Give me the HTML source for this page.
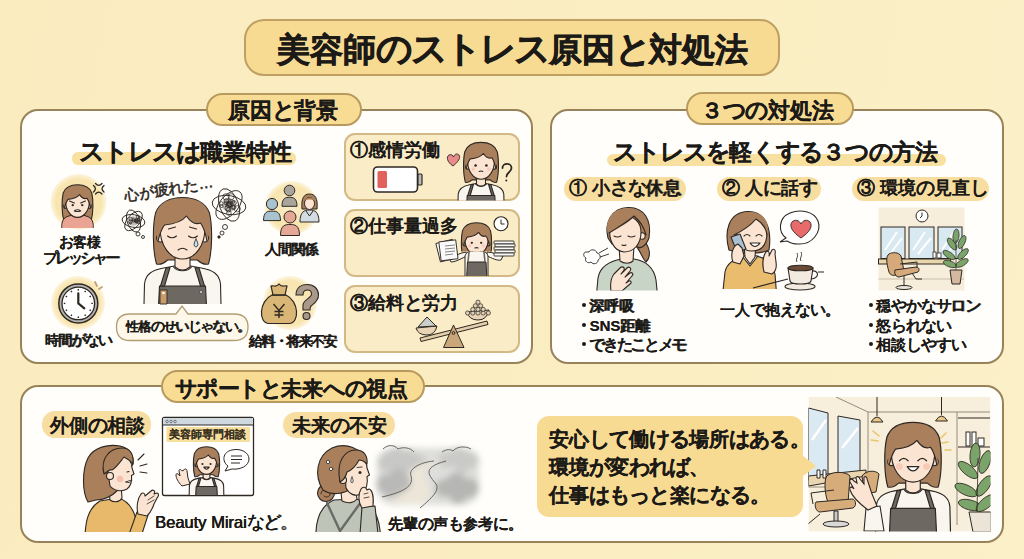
<!DOCTYPE html>
<html><head><meta charset="utf-8">
<style>
*{margin:0;padding:0;box-sizing:border-box}
html,body{width:1024px;height:559px;overflow:hidden}
body{position:relative;font-family:"Liberation Sans",sans-serif;color:#1c1a17;
background:linear-gradient(100deg,#faecbf 0%,#faedc1 50%,#fbf0c8 100%)}
.a{position:absolute}
.t{position:absolute;white-space:nowrap;font-weight:bold;line-height:1;-webkit-text-stroke:0.2px #1c1a17}
.panel{position:absolute;background:#fffefa;border:2.2px solid #978259;border-radius:18px}
.pill{position:absolute;background:#f8dc94;border:2px solid #b89a5e;border-radius:18px}
.card{position:absolute;background:#faecc6;border:2px solid #d2b985;border-radius:11px}
.tag{position:absolute;background:#f7dea0;border-radius:13px}
.band{position:absolute;background:#f8e0a0;border-radius:6px}
svg{position:absolute;overflow:visible}
.k{font-size:1.07em;letter-spacing:-0.07em;line-height:0;position:relative;top:0}
</style></head><body>
<div class="pill" style="left:244px;top:19px;width:536px;height:57px;border-radius:20px;background:#f8db93;border-color:#bf9f62"></div>
<div class="panel" style="left:20px;top:109px;width:513px;height:255px"></div>
<div class="panel" style="left:550px;top:109px;width:454px;height:255px"></div>
<div class="panel" style="left:20px;top:385px;width:984px;height:158px"></div>
<div class="pill" style="left:206px;top:93px;width:156px;height:33px"></div>
<div class="pill" style="left:686px;top:92px;width:168px;height:33px"></div>
<div class="pill" style="left:161px;top:370px;width:264px;height:33px"></div>
<div class="band" style="left:72px;top:152px;width:224px;height:13px"></div>
<div class="card" style="left:344px;top:133px;width:176px;height:68px"></div>
<div class="card" style="left:344px;top:209px;width:176px;height:68px"></div>
<div class="card" style="left:344px;top:285px;width:176px;height:68px"></div>
<div class="band" style="left:607px;top:154px;width:339px;height:12px"></div>
<div class="tag" style="left:564px;top:177px;width:122px;height:24px"></div>
<div class="tag" style="left:717px;top:177px;width:104px;height:24px"></div>
<div class="tag" style="left:852px;top:177px;width:137px;height:24px"></div>
<div class="tag" style="left:42px;top:411px;width:109px;height:27px"></div>
<div class="tag" style="left:283px;top:412px;width:112px;height:26px"></div>
<div class="a" style="left:537px;top:416px;width:266px;height:101px;background:#f8db92;border-radius:12px"></div>
<svg width="1024" height="559" style="left:0;top:0" viewBox="0 0 1024 559">
<defs><radialGradient id="yg"><stop offset="0" stop-color="#faedc8"/><stop offset="0.8" stop-color="#f8e4ad"/><stop offset="1" stop-color="#f8e4ad" stop-opacity="0.35"/></radialGradient><filter id="blur3"><feGaussianBlur stdDeviation="3"/></filter><filter id="blur4" x="-30%" y="-30%" width="160%" height="160%"><feGaussianBlur stdDeviation="4.5"/></filter><filter id="blur25" x="-30%" y="-30%" width="160%" height="160%"><feGaussianBlur stdDeviation="3"/></filter><filter id="blur1"><feGaussianBlur stdDeviation="1"/></filter></defs>
<circle cx="78.5" cy="202" r="28" fill="url(#yg)"/>
<circle cx="78" cy="303" r="27" fill="url(#yg)"/>
<circle cx="291.5" cy="208" r="27" fill="url(#yg)"/>
<circle cx="290" cy="303" r="27" fill="url(#yg)"/>
<clipPath id="cw"><rect x="-17.5" y="146" width="400" height="158"/></clipPath>
<g clip-path="url(#cw)">
<g transform="translate(182.5,196) scale(1.0)" stroke="#2e2823" stroke-width="1.10" stroke-linejoin="round" stroke-linecap="round">
<path fill="#a97f5c" d="M-26,68 C-30,54 -30,30 -27,17 C-23,6 -12,1.5 0,1.5 C12,1.5 23,6 27,17 C30,30 30,54 26,68 C22,69 18,67 15,64 L-15,64 C-18,67 -22,69 -26,68 Z"/>
<g transform="translate(0,0) scale(1,1)"><path fill="#f9f6f0" d="M-39,130 L-38,88 C-37,78 -30,74 -19,72 L-8,70 L8,70 L19,72 C30,74 37,78 38,88 L39,130 Z"/>
<path fill="none" d="M-9,71 C-5,76 5,76 9,71"/>
<path fill="#fbe4d2" d="M-7.5,54 L-7.5,71 C-3,75 3,75 7.5,71 L7.5,54 Z"/></g>
<path fill="#6e6862" d="M-23,90 L23,90 L25,130 L-25,130 Z"/>
<path fill="#6e6862" d="M-16.5,72 L-22,90 L-18,90 L-12.5,71.5 Z M16.5,72 L22,90 L18,90 L12.5,71.5 Z"/>
<circle fill="#fbe4d2" cx="-22" cy="42" r="4"/><circle fill="#fbe4d2" cx="22" cy="42" r="4"/>
<path fill="#fbe4d2" d="M-22.5,30 C-23,49 -13,63 0,63 C13,63 23,49 22.5,30 C22,18 12,12 0,12 C-12,12 -22,18 -22.5,30 Z"/>
<path fill="#a97f5c" stroke="none" d="M-25,46 C-28,20 -16,5 0,5 C16,5 28,20 25,46 C23,37 21,31 18,27 C13,29 8,26 4,20 C0,25 -8,28 -18,29 C-21,33 -23,39 -25,46 Z"/>
<path fill="none" d="M-24.5,45 C-23,39 -21,33 -18,29 C-8,28 0,25 4,20 C8,26 13,29 18,27 C21,31 23,37 24.5,45"/>
<path fill="none" d="M-15,40 Q-10.5,43.5 -6,40 M6,40 Q10.5,43.5 15,40 M-14,33 L-7,31 M7,31 L14,33 M-4.5,54 Q0,50.5 4.5,54"/>
<path fill="#bfe0f0" stroke-width="0.80" d="M13.5,43 Q9.5,50 13.5,51 Q17.5,50 13.5,43 Z"/>
</g>
</g>
<path fill="#c99a6a" stroke="#2e2823" stroke-width="0.9" d="M160,290 L167,290 L167,304 L160,304 Z"/><circle cx="163.5" cy="293" r="1.3" fill="#fff" stroke="none"/><circle cx="201" cy="292" r="1.5" fill="#ddd" stroke="#2e2823" stroke-width="0.6"/>
<g fill="none" stroke="#2e2823" stroke-width="0.9">
<ellipse cx="133.5" cy="221" rx="11.5" ry="6.3" transform="rotate(10.0 133.5 221)"/>
<ellipse cx="133.5" cy="221" rx="11.5" ry="6.3" transform="rotate(70.0 133.5 221)"/>
<ellipse cx="133.5" cy="221" rx="11.5" ry="6.3" transform="rotate(130.0 133.5 221)"/>
<circle cx="138.0" cy="216.8" r="1.6" stroke-width="0.7"/>
<circle cx="135.5" cy="221.0" r="1.0" stroke-width="0.7"/>
<circle cx="133.3" cy="220.9" r="1.2" stroke-width="0.7"/>
<circle cx="130.3" cy="223.1" r="1.1" stroke-width="0.7"/>
<circle cx="138.8" cy="222.4" r="1.4" stroke-width="0.7"/>
<circle cx="139.0" cy="219.5" r="1.4" stroke-width="0.7"/>
<circle cx="130.3" cy="221.8" r="1.8" stroke-width="0.7"/>
<circle cx="130.6" cy="219.0" r="1.8" stroke-width="0.7"/>
<circle cx="136.5" cy="219.8" r="1.5" stroke-width="0.7"/>
<circle cx="133.2" cy="219.5" r="1.3" stroke-width="0.7"/>
<circle cx="136.8" cy="220.5" r="1.7" stroke-width="0.7"/>
<circle cx="136.1" cy="221.2" r="1.7" stroke-width="0.7"/>
<circle cx="137.4" cy="221.5" r="1.8" stroke-width="0.7"/>
<circle cx="133.5" cy="221" r="4.8" fill="#2e2823" fill-opacity="0.3" stroke="none"/>
</g>
<g fill="none" stroke="#2e2823" stroke-width="0.9"><circle cx="138" cy="234" r="2"/><circle cx="143" cy="237" r="1.5"/></g>
<g fill="none" stroke="#2e2823" stroke-width="0.9">
<ellipse cx="229" cy="205" rx="17" ry="9.4" transform="rotate(10.0 229 205)"/>
<ellipse cx="229" cy="205" rx="17" ry="9.4" transform="rotate(70.0 229 205)"/>
<ellipse cx="229" cy="205" rx="17" ry="9.4" transform="rotate(130.0 229 205)"/>
<circle cx="234.0" cy="207.3" r="1.9" stroke-width="0.7"/>
<circle cx="229.2" cy="204.6" r="3.2" stroke-width="0.7"/>
<circle cx="226.0" cy="196.9" r="3.2" stroke-width="0.7"/>
<circle cx="233.4" cy="201.8" r="1.4" stroke-width="0.7"/>
<circle cx="229.0" cy="203.4" r="2.0" stroke-width="0.7"/>
<circle cx="226.4" cy="200.8" r="2.2" stroke-width="0.7"/>
<circle cx="234.3" cy="202.9" r="2.1" stroke-width="0.7"/>
<circle cx="228.9" cy="213.1" r="2.3" stroke-width="0.7"/>
<circle cx="229.7" cy="201.8" r="1.8" stroke-width="0.7"/>
<circle cx="221.5" cy="203.4" r="1.7" stroke-width="0.7"/>
<circle cx="231.2" cy="196.7" r="3.0" stroke-width="0.7"/>
<circle cx="229.0" cy="204.9" r="2.6" stroke-width="0.7"/>
<circle cx="229.3" cy="204.6" r="1.9" stroke-width="0.7"/>
<circle cx="228.4" cy="209.9" r="2.2" stroke-width="0.7"/>
<circle cx="221.8" cy="206.2" r="1.4" stroke-width="0.7"/>
<circle cx="230.1" cy="205.4" r="1.6" stroke-width="0.7"/>
<circle cx="237.3" cy="208.8" r="3.1" stroke-width="0.7"/>
<circle cx="233.0" cy="207.4" r="2.0" stroke-width="0.7"/>
<circle cx="227.7" cy="208.0" r="2.7" stroke-width="0.7"/>
<circle cx="226.1" cy="203.3" r="1.7" stroke-width="0.7"/>
<circle cx="229" cy="205" r="7.1" fill="#2e2823" fill-opacity="0.3" stroke="none"/>
</g>
<g fill="none" stroke="#2e2823" stroke-width="0.9"><circle cx="225" cy="227" r="2.5"/><circle cx="222" cy="233" r="2"/><circle cx="219" cy="237" r="1.2" fill="#2e2823"/></g>
<text x="125" y="201" transform="rotate(-9 125 201)" font-size="15" fill="#2e2823" stroke="#2e2823" stroke-width="0.55" style="font-family:'Liberation Sans',sans-serif">心が疲れた…</text>
<path fill="#fdf8ea" stroke="#b39d72" stroke-width="1.3" d="M130,314 L176,314 L182,306 L188,314 L234,314 Q248,314 248,327 Q248,340.5 234,340.5 L130,340.5 Q116.5,340.5 116.5,327 Q116.5,314 130,314 Z"/>
<clipPath id="cust"><rect x="-122.5" y="134" width="400" height="94"/></clipPath>
<g clip-path="url(#cust)">
<g transform="translate(77.5,184) scale(0.53)" stroke="#2e2823" stroke-width="2.08" stroke-linejoin="round" stroke-linecap="round">
<path fill="#a97f5c" d="M-26,68 C-30,54 -30,30 -27,17 C-23,6 -12,1.5 0,1.5 C12,1.5 23,6 27,17 C30,30 30,54 26,68 C22,69 18,67 15,64 L-15,64 C-18,67 -22,69 -26,68 Z"/>
<g transform="translate(0,-12) scale(0.78,1)"><path fill="#e9a493" d="M-39,130 L-38,88 C-37,78 -30,74 -19,72 L-8,70 L8,70 L19,72 C30,74 37,78 38,88 L39,130 Z"/>
<path fill="none" d="M-9,71 C-5,76 5,76 9,71"/>
<path fill="#fbe4d2" d="M-7.5,54 L-7.5,71 C-3,75 3,75 7.5,71 L7.5,54 Z"/></g>
<circle fill="#fbe4d2" cx="-22" cy="42" r="4"/><circle fill="#fbe4d2" cx="22" cy="42" r="4"/>
<path fill="#fbe4d2" d="M-22.5,30 C-23,49 -13,63 0,63 C13,63 23,49 22.5,30 C22,18 12,12 0,12 C-12,12 -22,18 -22.5,30 Z"/>
<path fill="#a97f5c" stroke="none" d="M-25,46 C-28,20 -16,5 0,5 C16,5 28,20 25,46 C23,37 21,31 18,27 C13,29 8,26 4,20 C0,25 -8,28 -18,29 C-21,33 -23,39 -25,46 Z"/>
<path fill="none" d="M-24.5,45 C-23,39 -21,33 -18,29 C-8,28 0,25 4,20 C8,26 13,29 18,27 C21,31 23,37 24.5,45"/>
<path fill="none" d="M-15,32 L-6,36 M6,36 L15,32"/>
<circle fill="#2e2823" stroke="none" cx="-9" cy="40" r="2.2"/><circle fill="#2e2823" stroke="none" cx="9" cy="40" r="2.2"/>
<path fill="#fff" d="M-6,51 Q0,46 6,51 Q0,53 -6,51 Z"/>
</g>
</g>
<g fill="none" stroke="#2e2823" stroke-width="1.3" stroke-linecap="round"><path d="M95.5,183.5 Q98.7,187.3 102,183.5 M95.5,194 Q98.7,190.3 102,194 M93.5,185.5 Q97.3,188.8 93.5,192 M104,185.5 Q100.1,188.8 104,192"/></g>
<g stroke="#2e2823"><circle cx="78.3" cy="303.4" r="19.5" fill="#b6b4b0" stroke-width="1.5"/><circle cx="78.3" cy="303.4" r="16.3" fill="#fff" stroke-width="1.3"/><g stroke-width="1.4"><line x1="91.30" y1="303.40" x2="92.80" y2="303.40"/><line x1="89.56" y1="309.90" x2="90.86" y2="310.65"/><line x1="84.80" y1="314.66" x2="85.55" y2="315.96"/><line x1="78.30" y1="316.40" x2="78.30" y2="317.90"/><line x1="71.80" y1="314.66" x2="71.05" y2="315.96"/><line x1="67.04" y1="309.90" x2="65.74" y2="310.65"/><line x1="65.30" y1="303.40" x2="63.80" y2="303.40"/><line x1="67.04" y1="296.90" x2="65.74" y2="296.15"/><line x1="71.80" y1="292.14" x2="71.05" y2="290.84"/><line x1="78.30" y1="290.40" x2="78.30" y2="288.90"/><line x1="84.80" y1="292.14" x2="85.55" y2="290.84"/><line x1="89.56" y1="296.90" x2="90.86" y2="296.15"/></g><path d="M78.3,303.4 L78.3,293.4 M78.3,303.4 L84.3,308.4" stroke-width="2.2" fill="none" stroke-linecap="round"/></g>
<g stroke="#c2a468" stroke-width="1.8" stroke-linecap="round"><path d="M95,282 L97,286 M99,289 L102,287"/></g>
<g stroke="#2e2823" stroke-width="1" fill="#a9a59d"><path d="M282.0,206.3 C282.0,197.8 285.75,197.3 289.5,197.3 C293.25,197.3 297.0,197.8 297.0,206.3 Z"/><circle cx="289.5" cy="190.5" r="5.3"/></g>
<g stroke="#2e2823" stroke-width="1" fill="#a8c3cf"><path d="M263.5,220.6 C263.5,211.6 267.75,211.1 272,211.1 C276.25,211.1 280.5,211.6 280.5,220.6 Z"/><circle cx="272" cy="204" r="5.6"/></g>
<g stroke="#2e2823" stroke-width="1"><path fill="#d3dbe3" d="M300,222 C300,212 304,210 309.5,210 C315,210 319,212 319,222 Z"/><path fill="none" d="M306,211 L309.5,216 L313,211"/><path fill="#a97f5c" d="M302,209 C301,198 304,194 309.5,194 C315,194 318,198 317,209 Z"/><ellipse cx="309.5" cy="203.5" rx="5" ry="6" fill="#fbe4d2"/><path fill="#a97f5c" stroke="none" d="M304,201 C305,197 314,196 315,201 C312,199 307,199 304,201Z"/></g>
<g stroke="#2e2823" stroke-width="1" fill="#e6a896"><path d="M280.5,235.5 C280.5,225 285.25,224.5 290,224.5 C294.75,224.5 299.5,225 299.5,235.5 Z"/><circle cx="290" cy="217" r="6"/></g>
<g stroke="#2e2823" stroke-width="1.2" fill="#d9b676"><path d="M272,295 C259,301 258,323 269,323.5 L289,323.5 C300,323 299,301 286,295 Z"/><path d="M271,286 C274,285 276,288 279,284 C282,288 284,285 287,286 L285,295 L273,295 Z"/><path fill="none" d="M272,295 L286,295"/></g>
<g fill="none" stroke="#2e2823" stroke-width="1.4"><path d="M273.5,304 L279,310.5 L284.5,304 M279,310.5 L279,318 M274.5,311.5 L283.5,311.5 M274.5,315 L283.5,315"/></g>
<path fill="#a8998a" stroke="#2e2823" stroke-width="1.1" d="M296,295 C296,287 302,284.5 307.5,284.5 C314,284.5 318.5,289 318.5,295 C318.5,301 314,303.5 311,306 C310,307 310,308 310,310 L303,310 L303,305 C303,300 311.5,298 311.5,294 C311.5,291 310,290 307.5,290 C304.5,290 303,292 303,295 Z"/><circle cx="306.5" cy="316" r="3.5" fill="#a8998a" stroke="#2e2823" stroke-width="1.1"/>
<g stroke="#2e2823"><rect x="373.5" y="167" width="44" height="25" rx="4" fill="#fff" stroke-width="1.6"/><rect x="418" y="174" width="4" height="11" rx="1" fill="#bbb" stroke-width="1.2"/><rect x="377.5" y="171" width="9.5" height="17" rx="1.5" fill="#e2615a" stroke="none"/></g>
<clipPath id="c1"><rect x="281" y="91.5" width="400" height="109.0"/></clipPath>
<g clip-path="url(#c1)">
<g transform="translate(481,141.5) scale(0.6)" stroke="#2e2823" stroke-width="1.83" stroke-linejoin="round" stroke-linecap="round">
<path fill="#a97f5c" d="M-26,68 C-30,54 -30,30 -27,17 C-23,6 -12,1.5 0,1.5 C12,1.5 23,6 27,17 C30,30 30,54 26,68 C22,69 18,67 15,64 L-15,64 C-18,67 -22,69 -26,68 Z"/>
<g transform="translate(0,0) scale(1,1)"><path fill="#f9f6f0" d="M-39,130 L-38,88 C-37,78 -30,74 -19,72 L-8,70 L8,70 L19,72 C30,74 37,78 38,88 L39,130 Z"/>
<path fill="none" d="M-9,71 C-5,76 5,76 9,71"/>
<path fill="#fbe4d2" d="M-7.5,54 L-7.5,71 C-3,75 3,75 7.5,71 L7.5,54 Z"/></g>
<path fill="#6e6862" d="M-23,90 L23,90 L25,130 L-25,130 Z"/>
<path fill="#6e6862" d="M-16.5,72 L-22,90 L-18,90 L-12.5,71.5 Z M16.5,72 L22,90 L18,90 L12.5,71.5 Z"/>
<circle fill="#fbe4d2" cx="-22" cy="42" r="4"/><circle fill="#fbe4d2" cx="22" cy="42" r="4"/>
<path fill="#fbe4d2" d="M-22.5,30 C-23,49 -13,63 0,63 C13,63 23,49 22.5,30 C22,18 12,12 0,12 C-12,12 -22,18 -22.5,30 Z"/>
<path fill="#a97f5c" stroke="none" d="M-25,46 C-28,20 -16,5 0,5 C16,5 28,20 25,46 C23,37 21,31 18,27 C13,29 8,26 4,20 C0,25 -8,28 -18,29 C-21,33 -23,39 -25,46 Z"/>
<path fill="none" d="M-24.5,45 C-23,39 -21,33 -18,29 C-8,28 0,25 4,20 C8,26 13,29 18,27 C21,31 23,37 24.5,45"/>
<circle fill="#2e2823" stroke="none" cx="-9" cy="40" r="2.2"/><circle fill="#2e2823" stroke="none" cx="9" cy="40" r="2.2"/>
<path fill="none" d="M-3,50 Q0,48.5 3,50"/>
<circle fill="#f4b8a8" stroke="none" cx="-13" cy="46" r="3" opacity="0.6"/><circle fill="#f4b8a8" stroke="none" cx="13" cy="46" r="3" opacity="0.6"/>
</g>
</g>
<path fill="#e88a8a" stroke="#2e2823" stroke-width="0.9" d="M453,166 C447,162 446,157 449,155 C451,154 453,155 453.5,157 C454.5,154 457,153 459,155 C461,158 458,162 453,166 Z"/>
<path fill="none" stroke="#2e2823" stroke-width="1.8" stroke-linecap="round" d="M502.5,168 C502.5,162.5 511.5,162.5 511.5,168 C511.5,172 506.5,172.5 506.5,176.5"/><circle cx="506.3" cy="180.5" r="1" fill="#2e2823"/>
<clipPath id="c2b"><rect x="430" y="215" width="95" height="61"/></clipPath><g clip-path="url(#c2b)">
<g stroke="#2e2823" stroke-width="1" stroke-linejoin="round"><path fill="#f9f6f0" d="M467,256 C462,258 456,262 451,262 L449,258 C454,257 459,253 466,252 Z"/><path fill="#f9f6f0" d="M487,256 C492,258 497,261 501,260 L503,256 C499,256 494,252 487,252 Z"/><path fill="#f9f6f0" d="M465,280 L465,256 C466,252 470,251 476.5,251 C483,251 487,252 488,256 L488,280 Z"/><path fill="#6e6862" d="M467.5,262 L486,262 L487,280 L466.5,280 Z"/><path fill="none" stroke="#6e6862" stroke-width="1.6" d="M469,252 L468,262 M484,252 L485,262"/></g>
</g>
<clipPath id="c2"><rect x="276.5" y="172" width="400" height="79.5"/></clipPath>
<g clip-path="url(#c2)">
<g transform="translate(476.5,222) scale(0.52)" stroke="#2e2823" stroke-width="2.12" stroke-linejoin="round" stroke-linecap="round">
<path fill="#a97f5c" d="M-26,68 C-30,54 -30,30 -27,17 C-23,6 -12,1.5 0,1.5 C12,1.5 23,6 27,17 C30,30 30,54 26,68 C22,69 18,67 15,64 L-15,64 C-18,67 -22,69 -26,68 Z"/>
<g transform="translate(0,0) scale(1,1)"><path fill="#f9f6f0" d="M-39,130 L-38,88 C-37,78 -30,74 -19,72 L-8,70 L8,70 L19,72 C30,74 37,78 38,88 L39,130 Z"/>
<path fill="none" d="M-9,71 C-5,76 5,76 9,71"/>
<path fill="#fbe4d2" d="M-7.5,54 L-7.5,71 C-3,75 3,75 7.5,71 L7.5,54 Z"/></g>
<path fill="#6e6862" d="M-23,90 L23,90 L25,130 L-25,130 Z"/>
<path fill="#6e6862" d="M-16.5,72 L-22,90 L-18,90 L-12.5,71.5 Z M16.5,72 L22,90 L18,90 L12.5,71.5 Z"/>
<circle fill="#fbe4d2" cx="-22" cy="42" r="4"/><circle fill="#fbe4d2" cx="22" cy="42" r="4"/>
<path fill="#fbe4d2" d="M-22.5,30 C-23,49 -13,63 0,63 C13,63 23,49 22.5,30 C22,18 12,12 0,12 C-12,12 -22,18 -22.5,30 Z"/>
<path fill="#a97f5c" stroke="none" d="M-25,46 C-28,20 -16,5 0,5 C16,5 28,20 25,46 C23,37 21,31 18,27 C13,29 8,26 4,20 C0,25 -8,28 -18,29 C-21,33 -23,39 -25,46 Z"/>
<path fill="none" d="M-24.5,45 C-23,39 -21,33 -18,29 C-8,28 0,25 4,20 C8,26 13,29 18,27 C21,31 23,37 24.5,45"/>
<circle fill="#2e2823" stroke="none" cx="-9" cy="40" r="2.2"/><circle fill="#2e2823" stroke="none" cx="9" cy="40" r="2.2"/>
<path fill="none" d="M-3,50 Q0,48.5 3,50"/>
<circle fill="#f4b8a8" stroke="none" cx="-13" cy="46" r="3" opacity="0.6"/><circle fill="#f4b8a8" stroke="none" cx="13" cy="46" r="3" opacity="0.6"/>
</g>
</g>
<g stroke="#2e2823" stroke-width="0.9" fill="#fafafa"><path transform="rotate(-14 447 251)" d="M438,241 L455,241 L455,260 L438,260 Z"/><path transform="rotate(-7 447 251)" d="M440,241 L457,241 L457,260 L440,260 Z"/><path fill="none" stroke="#777" d="M445,246 L455,245 M445,249 L455,248 M445,252 L455,251 M445,255 L453,254"/></g>
<g stroke="#2e2823" stroke-width="0.9" fill="#fafafa"><rect x="494" y="241" width="20" height="3" rx="0.5"/><rect x="495" y="244" width="20" height="3" rx="0.5"/><rect x="494" y="247" width="20" height="3" rx="0.5"/><rect x="495" y="250" width="20" height="3" rx="0.5"/><rect x="494" y="253" width="20" height="3" rx="0.5"/></g>
<g stroke="#2e2823"><circle cx="501" cy="223.7" r="7" fill="#fff" stroke-width="1.1"/><path d="M501,219.5 L501,224 L504.5,224" fill="none" stroke-width="1"/></g>
<g stroke="#2e2823" stroke-width="1"><path fill="#e3cdaa" d="M420,338 L487,321 L488,324.5 L421,341.5 Z"/><path fill="#c9a77a" d="M453.5,325 L464,347.5 L443.5,347.5 Z"/><circle cx="453.5" cy="333" r="1.4" fill="none"/><path fill="#e8d3b5" d="M416,328 L437,326 Q435,335 427,335 Q418,335 416,328 Z"/><path fill="#c9d0cc" d="M418,327 L427,317 L436,326 Z"/><path fill="#e8d3b5" d="M467,312 L489,310 Q487,320 478,320 Q469,320 467,312 Z"/></g>
<g fill="#ddd0b4" stroke="#2e2823" stroke-width="0.7"><circle cx="467.6" cy="313.0" r="2.1"/><circle cx="472.8" cy="313.0" r="2.1"/><circle cx="478.0" cy="313.0" r="2.1"/><circle cx="483.2" cy="313.0" r="2.1"/><circle cx="488.4" cy="313.0" r="2.1"/><circle cx="472.8" cy="309.4" r="2.1"/><circle cx="478.0" cy="309.4" r="2.1"/><circle cx="483.2" cy="309.4" r="2.1"/><circle cx="475.4" cy="305.8" r="2.1"/><circle cx="480.6" cy="305.8" r="2.1"/><circle cx="478.0" cy="302.2" r="2.1"/></g>
<clipPath id="bw"><rect x="560" y="200" width="120" height="90.5"/></clipPath><g clip-path="url(#bw)">
<g stroke="#2e2823" stroke-width="1.1" stroke-linejoin="round" stroke-linecap="round">
<path fill="#c8d5c6" d="M596,300 L598,278 C600,266 610,261 622,259 L634,259 C646,261 654,268 656,280 L658,300 Z"/>
<path fill="#fbe4d2" d="M619,246 L620,261 C624,264 630,264 633,261 L634,246 Z"/>
<path fill="#a97f5c" d="M640,238 C650,244 652,256 646,262 C642,258 640,250 636,246 Z"/>
<path fill="#a97f5c" d="M608,238 C604,222 612,208 628,207.5 C644,207 652,220 649,238 C646,246 640,250 636,246 L612,244 Z"/>
<circle fill="#fbe4d2" cx="642" cy="236" r="3.2"/>
<path fill="#fbe4d2" d="M610,226 C608,240 614,251 624,252 C634,252 641,244 641,232 C641,222 634,216 625,216 C616,216 611,220 610,226 Z"/>
<path fill="#a97f5c" stroke="none" d="M608,234 C604,218 614,208 628,208 C641,208 649,218 647,236 C644,226 640,220 634,216 C630,222 622,226 608,234 Z"/>
<path fill="none" d="M609,233 C620,226 629,221 634,216 C640,221 644,227 646,235"/>
<path fill="none" d="M614,236 Q617,238 621,236 M628,236 Q631,238 635,236 M622,245 Q624,246 626,245"/>
<path fill="#fbe4d2" d="M611,291 C610,284 611,278 614,274 L620,268 C622,266 625,267 624,270 L621,274 L627,268 C629,266 632,268 630,271 L625,277 L630,273 C632,272 634,274 632,276 L626,283 L629,281 C631,280 632,283 630,284 L622,291 Z"/>
</g></g>
<g fill="#fff" stroke="#2e2823" stroke-width="0.9"><path d="M586,252 C583,252 583,257 586,258 C584,261 588,264 591,262 C593,265 598,264 598,260 C601,259 601,254 597,253 C596,249 590,249 589,252 Z"/><path fill="none" d="M599,253 L608,248 M600,257 L609,254"/></g>
<clipPath id="pw"><rect x="700" y="200" width="140" height="89"/></clipPath><g clip-path="url(#pw)">
<g stroke="#2e2823" stroke-width="1.1" stroke-linejoin="round" stroke-linecap="round">
<path fill="#a97f5c" d="M729,250 C724,232 728,212 748,211.5 C766,211 772,230 769,250 C762,254 740,254 729,250 Z"/>
<path fill="#e9bc6e" d="M722,300 L725,272 C727,262 736,258 746,256 L756,256 C766,258 773,264 775,274 L777,300 Z"/>
<path fill="#fff" d="M742,256 L750,266 L758,256 Z"/>
<path fill="#fbe4d2" d="M744,244 L745,257 L750,264 L755,257 L756,244 Z"/>
<path fill="#fbe4d2" d="M737,230 C736,244 742,251 752,251 C762,251 767,244 767,232 C767,223 760,219 752,219 C743,219 738,223 737,230 Z"/>
<path fill="#a97f5c" stroke="none" d="M733,236 C730,220 738,212 750,212 C762,212 770,220 768,236 C765,226 760,221 756,219 C752,225 744,230 733,236 Z"/>
<path fill="none" d="M734,235 C744,230 751,225 756,219 C761,222 766,228 767,235"/>
<path fill="none" d="M744,236 Q747,233 750,236 M756,236 Q759,233 762,236"/><path fill="#fff" d="M750,243 Q755,250 760,243 Z"/>
<path fill="#a9c0d3" d="M731,237 L740,234 L746,249 L737,252 Z"/>
<path fill="#fbe4d2" d="M733,262 C730,254 733,246 738,244 L742,248 L744,256 L740,264 Z"/>
<path fill="#fbe4d2" d="M764,272 C762,264 763,256 766,252 C768,250 770,252 769,256 L772,250 C774,248 776,250 775,254 L776,262 C777,268 775,272 772,274 Z"/>
</g></g>
<g stroke="#2e2823" stroke-width="1.1"><path fill="#fff" d="M786,238 C778,232 778,218 790,213 C800,209 814,211 818,221 C822,232 812,245 798,244 C794,244 790,243 787,241 L780,242 Z"/><path fill="#e96a6b" stroke-width="0.9" d="M801,238 C792,232 789,226 792,222 C795,219 799,220 801,224 C803,220 807,219 810,222 C813,226 810,232 801,238 Z"/></g>
<g stroke="#2e2823" stroke-width="0.9" fill="none"><path d="M797,262 C795,259 799,257 797,253 M801,261 C799,258 803,256 801,252"/></g>
<g stroke="#2e2823" stroke-width="1.1"><path fill="none" d="M753,288 L788,279 M818,272 L824,272"/><ellipse cx="800" cy="286.5" rx="15" ry="3.5" fill="#f3ebe0"/><path fill="#f3ebe0" d="M788,268 L790,281 C791,285 810,285 811,281 L813,268 Z"/><path fill="none" d="M812,271 C819,270 820,278 811,279"/><ellipse cx="800.5" cy="268" rx="12.5" ry="2.8" fill="#6b4a36"/></g>
<rect x="878.5" y="207.5" width="86" height="83" fill="#f6eddb"/>
<g stroke="#2e2823" stroke-width="1">
<rect x="881" y="227" width="24" height="31.5" fill="#d9e9f1"/>
<path stroke="#fff" stroke-width="2" d="M885,250 L897,232 M890,254 L902,238"/>
<rect x="909" y="227" width="25" height="31.5" fill="#d9e9f1"/>
<path stroke="#fff" stroke-width="2" d="M913,250 L925,232 M918,254 L931,238"/>
<rect x="938" y="227" width="24" height="31.5" fill="#d9e9f1"/>
<path stroke="#fff" stroke-width="2" d="M942,250 L954,232 M947,254 L959,238"/>
<rect x="878.5" y="259" width="72" height="5" fill="#ead6ad"/>
<circle cx="922" cy="216" r="6" fill="#fff"/><path fill="none" d="M922,212.5 L922,216 L920,218"/>
<path fill="none" stroke="#cbbfa8" d="M878.5,279 L964,279"/>
<path fill="#d5a97a" d="M889,254 C886,256 886,262 889,272 C890,275 893,276 896,275 L904,271 L901,256 C899,252 892,252 889,254 Z"/>
<path fill="#d5a97a" d="M895,270 L916,267 C919,267 920,270 918,272 L899,277 C896,277 894,274 895,270 Z"/>
<path fill="none" d="M900,264 L917,262 L917,268"/>
<path fill="none" d="M904,276 L904,286"/><ellipse cx="904" cy="287.5" rx="8" ry="2" fill="#e8e4dc"/>
<path fill="none" d="M912,273 L916,279 L922,279"/>
<path fill="#d4b9a0" d="M950,270 L962,270 L960,284 L952,284 Z"/>
</g>
<g fill="#7aa46a" stroke="#2e2823" stroke-width="0.7"><ellipse cx="952" cy="244" rx="3" ry="7" transform="rotate(-35 952 244)"/><ellipse cx="962" cy="242" rx="3" ry="7" transform="rotate(25 962 242)"/><ellipse cx="949" cy="255" rx="3" ry="7" transform="rotate(-55 949 255)"/><ellipse cx="963" cy="254" rx="3" ry="7" transform="rotate(45 963 254)"/><ellipse cx="956" cy="236" rx="3" ry="7" transform="rotate(5 956 236)"/><ellipse cx="950" cy="264" rx="3" ry="7" transform="rotate(-70 950 264)"/><ellipse cx="962" cy="263" rx="3" ry="7" transform="rotate(60 962 263)"/><path fill="none" d="M956,270 L956,240"/></g>
<g stroke="#2e2823" stroke-width="0.8" fill="#fff"><rect x="933" y="252" width="3" height="6"/><rect x="937" y="253" width="4" height="5"/></g>
<clipPath id="pf"><rect x="60" y="430" width="120" height="102"/></clipPath><g clip-path="url(#pf)">
<g stroke="#2e2823" stroke-width="1.1" stroke-linejoin="round" stroke-linecap="round">
<path fill="#e9b96b" d="M85,540 C85,522 88,508 100,501 L118,498 C130,501 136,512 138,530 L140,540 Z"/>
<path fill="#e9b96b" d="M127,540 L137,512 L148,515 L140,540 Z"/>
<path fill="#fbe4d2" d="M138,514 C136,506 138,498 141,494 C143,492 145,493 145,496 L151,491 C153,489 156,491 154,494 L157,493 C159,493 159,496 157,498 L154,504 C152,510 149,514 147,516 Z"/>
<path fill="none" stroke-width="0.8" d="M148,500 L154,496 M147,504 L154,500"/>
<path fill="#fbe4d2" d="M108,482 L110,500 C114,503 120,502 122,498 L121,484 Z"/>
<path fill="#a97f5c" d="M88,502 C82,492 82,470 88,458 C94,447 108,444 120,446 C130,448 134,456 133,464 L118,490 C112,496 104,500 96,500 Z"/>
<path fill="#fbe4d2" d="M108,472 C108,462 114,456 122,456 C128,456 132,462 132,468 L134,474 L131.5,475.5 C132,480 131,486 127,489 C122,492 114,491 110,486 Z"/>
<circle fill="#fbe4d2" cx="110" cy="476" r="3.5"/>
<path fill="#a97f5c" d="M104,474 C100,458 110,448 122,448 C130,448 134,454 133,464 C130,460 126,458 124,457 C120,462 116,468 112,470 C110,468 108,472 104,474 Z"/>
<circle fill="#f3b2a0" stroke="none" cx="120" cy="479" r="3.2" opacity="0.75"/>
<path fill="none" d="M127,472 L129,471.5"/><path fill="#fff" stroke-width="0.9" d="M126,482 Q130,484 132,480 Q128,481 126,482 Z"/>
</g></g>
<g stroke="#2e2823" stroke-width="1.1" stroke-linecap="round"><path d="M138,460 L144,454 M140,466 L147,464 M140,472 L147,473"/></g>
<rect x="162.5" y="417.5" width="91" height="78" rx="2" fill="#fff" stroke="#2e2823" stroke-width="1.3"/>
<rect x="163" y="418" width="90" height="7" fill="#cfd8df"/><path stroke="#2e2823" stroke-width="1" d="M162.5,425 L253.5,425"/>
<g fill="none" stroke="#555" stroke-width="0.7"><circle cx="167" cy="421.5" r="1.3"/><circle cx="171" cy="421.5" r="1.3"/><circle cx="175" cy="421.5" r="1.3"/></g>
<rect x="166.5" y="427" width="83.5" height="15" fill="#f7df9e"/>
<clipPath id="bwin"><rect x="163" y="426" width="90" height="69"/></clipPath><g clip-path="url(#bwin)">
<g transform="translate(206.5,446) scale(0.45)" stroke="#2e2823" stroke-width="2.44" stroke-linejoin="round" stroke-linecap="round">
<path fill="#a97f5c" d="M-26,68 C-30,54 -30,30 -27,17 C-23,6 -12,1.5 0,1.5 C12,1.5 23,6 27,17 C30,30 30,54 26,68 C22,69 18,67 15,64 L-15,64 C-18,67 -22,69 -26,68 Z"/>
<g transform="translate(0,0) scale(1,1)"><path fill="#f9f6f0" d="M-39,130 L-38,88 C-37,78 -30,74 -19,72 L-8,70 L8,70 L19,72 C30,74 37,78 38,88 L39,130 Z"/>
<path fill="none" d="M-9,71 C-5,76 5,76 9,71"/>
<path fill="#fbe4d2" d="M-7.5,54 L-7.5,71 C-3,75 3,75 7.5,71 L7.5,54 Z"/></g>
<path fill="#6e6862" d="M-23,90 L23,90 L25,130 L-25,130 Z"/>
<path fill="#6e6862" d="M-16.5,72 L-22,90 L-18,90 L-12.5,71.5 Z M16.5,72 L22,90 L18,90 L12.5,71.5 Z"/>
<circle fill="#fbe4d2" cx="-22" cy="42" r="4"/><circle fill="#fbe4d2" cx="22" cy="42" r="4"/>
<path fill="#fbe4d2" d="M-22.5,30 C-23,49 -13,63 0,63 C13,63 23,49 22.5,30 C22,18 12,12 0,12 C-12,12 -22,18 -22.5,30 Z"/>
<path fill="#a97f5c" stroke="none" d="M-25,46 C-28,20 -16,5 0,5 C16,5 28,20 25,46 C23,37 21,31 18,27 C13,29 8,26 4,20 C0,25 -8,28 -18,29 C-21,33 -23,39 -25,46 Z"/>
<path fill="none" d="M-24.5,45 C-23,39 -21,33 -18,29 C-8,28 0,25 4,20 C8,26 13,29 18,27 C21,31 23,37 24.5,45"/>
<circle fill="#2e2823" stroke="none" cx="-9" cy="40" r="2.4"/><circle fill="#2e2823" stroke="none" cx="9" cy="40" r="2.4"/>
<path fill="#fff" d="M-6,47 Q0,56 6,47 Z"/>
</g>
</g>
<g stroke="#2e2823" stroke-width="1"><path fill="#fbe4d2" d="M182,486 C178,482 176,478 176,475 C176,473 178,473 180,476 L179,471 C179,469 181,469 182,471 L184,470 C185,468 187,469 187,471 L188,478 L190,484 Z"/><path fill="#fff" d="M228,466 C222,462 222,452 232,450 C240,448 249,452 249,459 C249,466 240,470 232,469 L225,471 Z"/><path fill="none" d="M231,456 L242,456 M231,459.5 L242,459.5 M231,463 L240,463"/></g>
<clipPath id="wr"><rect x="300" y="440" width="100" height="92"/></clipPath><g clip-path="url(#wr)">
<g stroke="#2e2823" stroke-width="1.1" stroke-linejoin="round" stroke-linecap="round">
<path fill="#bfc4b8" d="M316,540 C315,520 320,506 334,500 L356,499 C370,502 378,512 380,530 L381,540 Z"/>
<path fill="none" stroke="#6a6a66" stroke-width="2.4" d="M327,503 L340,531 L361,502"/>
<path fill="#fbe4d2" d="M340,484 L342,501 C348,504 354,503 357,499 L355,486 Z"/>
<circle fill="#a97f5c" cx="326" cy="493" r="8.5"/><path fill="none" stroke-width="0.9" d="M321,494 C321,488 330,488 330,494 C330,497 326,498 324,496"/>
<path fill="#a97f5c" d="M323,490 C314,476 316,456 332,448 C346,442 362,448 366,462 L352,488 C344,494 332,496 323,490 Z"/>
<path fill="#fbe4d2" d="M345,472 C345,462 352,457 360,458 C365,459 367,464 367,468 L369.5,475 L367,476.5 C368,482 367,490 361,494 C355,497 349,494 346,488 Z"/>
<circle fill="#fbe4d2" cx="343" cy="480" r="3.5"/>
<path fill="#a97f5c" d="M340,482 C336,462 344,450 356,450 C364,450 368,456 367,464 C364,461 361,460 359,460 C356,466 352,470 347,472 C346,476 344,480 340,482 Z"/>
<circle fill="#fff" stroke-width="0.8" cx="328" cy="462" r="1.7"/><circle fill="#fff" stroke-width="0.8" cx="331" cy="469" r="1.7"/>
<circle fill="#2e2823" stroke="none" cx="360" cy="472.5" r="1.5"/><path fill="none" stroke-width="0.9" d="M357,467.5 L362,467"/>
<path fill="#cde6f2" stroke-width="0.7" d="M352,477 Q349.5,482 352,483 Q354.5,482 352,477Z"/>
<path fill="#bfc4b8" d="M360,534 L362,507 L375,506 L378,534 Z"/>
<path fill="#fbe4d2" d="M362,508 C358,502 358,494 361,489 C363,486 366,487 367,490 L369,489 C372,490 374,496 373,506 Z"/>
<path fill="none" stroke-width="0.8" d="M364,494 L368,493 M364,498 L369,497"/>
</g></g>
<g filter="url(#blur25)">
<rect x="377" y="448" width="102" height="57" rx="16" fill="#dededc"/>
<circle cx="386" cy="462" r="9" fill="#c8c8c6"/>
<circle cx="397" cy="458" r="11" fill="#c8c8c6"/>
<circle cx="410" cy="460" r="10" fill="#c8c8c6"/>
<circle cx="420" cy="464" r="8" fill="#c8c8c6"/>
<circle cx="400" cy="466" r="10" fill="#c8c8c6"/>
<circle cx="386" cy="484" r="10" fill="#b9b9b7"/>
<circle cx="398" cy="480" r="11" fill="#b9b9b7"/>
<circle cx="406" cy="488" r="9" fill="#b9b9b7"/>
<circle cx="392" cy="492" r="8" fill="#b9b9b7"/>
<circle cx="446" cy="460" r="8" fill="#cacac8"/>
<circle cx="458" cy="457" r="10" fill="#cacac8"/>
<circle cx="470" cy="460" r="9" fill="#cacac8"/>
<circle cx="462" cy="466" r="8" fill="#cacac8"/>
<circle cx="444" cy="488" r="9" fill="#b6b6b4"/>
<circle cx="456" cy="484" r="11" fill="#b6b6b4"/>
<circle cx="469" cy="488" r="10" fill="#b6b6b4"/>
<circle cx="458" cy="495" r="9" fill="#b6b6b4"/>
<path fill="#ece6d8" d="M385,500 C404,494 414,488 411,476 C408,468 422,462 437,461 L445,461 C430,464 420,470 425,478 C432,488 432,496 422,506 Z"/>
</g>
<g fill="none" stroke="#5a5855" stroke-width="0.9"><path d="M382,497 C404,492 414,486 411,476 C408,468 422,462 434,461"/><path d="M420,508 C432,498 440,490 436,484 C430,476 420,468 446,461"/><path d="M383,449 C388,444 395,445 398,449 C402,447 410,447 414,452"/><path d="M442,452 C447,449 450,449 453,451 C457,446 466,446 471,449"/></g>
<clipPath id="sb"><rect x="808.5" y="397" width="182" height="134.5"/></clipPath><g clip-path="url(#sb)">
<rect x="808.5" y="397" width="182" height="134.5" fill="#f7eedb"/>
<g stroke="#8a8070" stroke-width="0.9" fill="none"><path d="M836,397 L868,412 L868,486 M868,412 L990,412 M957,412 L957,525 M808,487 L868,487"/></g>
<g stroke="#2e2823" stroke-width="1">
<path fill="#dbeaf2" d="M808.5,408 L828,413 L828,477 L808.5,480 Z"/><path fill="#dbeaf2" d="M838,416 L860,420 L860,473 L838,475 Z"/>
<path stroke="#fff" stroke-width="2.5" d="M812,440 L826,420 M842,448 L858,428"/>
<path fill="#ead7b2" d="M808.5,476 L866,470 L866,476 L808.5,486 Z"/>
<path fill="#d6ac7b" d="M862,476 C866,470 876,470 879,474 L876,492 L864,494 Z"/>
<path fill="#d6ac7b" d="M826,477 C830,471 846,471 850,476 L848,503 L829,505 C825,496 824,485 826,477 Z"/>
<path fill="#d6ac7b" d="M816,502 L852,499 C856,499 857,506 853,508 L820,512 C816,512 814,505 816,502 Z"/>
<path fill="none" d="M811,493 L834,490 M811,493 L813,504"/>
<path fill="#c9c9c7" d="M834,511 L838,511 L838,522 L834,522 Z"/><ellipse cx="836" cy="524" rx="13" ry="3" fill="#d9d9d7"/>
<path fill="none" d="M808,524 L820,514"/>
<path fill="none" d="M877,397 L877,416 M941.5,397 L941.5,415"/><path fill="#e9c887" d="M871,422 Q877,412 883,422 Z M935.5,421 Q941.5,411 947.5,421 Z"/>
<path fill="none" d="M958,418 L990,418 M958,447 L990,447"/>
<rect x="966" y="432" width="4" height="14" fill="#fff"/><rect x="972" y="432" width="4" height="14" fill="#fff"/><rect x="978" y="438" width="6" height="8" fill="#fff"/>
<path fill="#fff" d="M817,478 L817,470 L820,470 L820,478 Z M823,478 L823,470 L826,470 L826,478 Z"/>
<path fill="#ece4d6" d="M969,512 L991,512 L991,532 L973,532 Z"/>
</g>
<g fill="#7aa46a" stroke="#2e2823" stroke-width="0.8"><ellipse cx="968" cy="470" rx="5" ry="12" transform="rotate(-50 968 470)"/><ellipse cx="985" cy="462" rx="5" ry="12" transform="rotate(20 985 462)"/><ellipse cx="966" cy="490" rx="5" ry="12" transform="rotate(-65 966 490)"/><ellipse cx="984" cy="486" rx="5" ry="12" transform="rotate(35 984 486)"/><ellipse cx="975" cy="455" rx="5" ry="12" transform="rotate(5 975 455)"/><ellipse cx="970" cy="505" rx="5" ry="12" transform="rotate(-75 970 505)"/><ellipse cx="986" cy="503" rx="5" ry="12" transform="rotate(50 986 503)"/><path fill="none" d="M977,512 L978,458"/></g>
<g stroke="#e9c66a" stroke-width="1.6" stroke-linecap="round"><path d="M873,431 L879,436 M871,440 L878,441 M946,433 L941,438 M948,442 L942,443 M951,450 L945,450"/></g>
<g transform="translate(913,421) scale(0.97)" stroke="#2e2823" stroke-width="1.24" stroke-linejoin="round" stroke-linecap="round">
<path fill="#a97f5c" d="M-26,68 C-30,54 -30,30 -27,17 C-23,6 -12,1.5 0,1.5 C12,1.5 23,6 27,17 C30,30 30,54 26,68 C22,69 18,67 15,64 L-15,64 C-18,67 -22,69 -26,68 Z"/>
<g transform="translate(0,0) scale(1,1)"><path fill="#f9f6f0" d="M-39,130 L-38,88 C-37,78 -30,74 -19,72 L-8,70 L8,70 L19,72 C30,74 37,78 38,88 L39,130 Z"/>
<path fill="none" d="M-9,71 C-5,76 5,76 9,71"/>
<path fill="#fbe4d2" d="M-7.5,54 L-7.5,71 C-3,75 3,75 7.5,71 L7.5,54 Z"/></g>
<path fill="#6e6862" d="M-23,90 L23,90 L25,130 L-25,130 Z"/>
<path fill="#6e6862" d="M-16.5,72 L-22,90 L-18,90 L-12.5,71.5 Z M16.5,72 L22,90 L18,90 L12.5,71.5 Z"/>
<circle fill="#fbe4d2" cx="-22" cy="42" r="4"/><circle fill="#fbe4d2" cx="22" cy="42" r="4"/>
<path fill="#fbe4d2" d="M-22.5,30 C-23,49 -13,63 0,63 C13,63 23,49 22.5,30 C22,18 12,12 0,12 C-12,12 -22,18 -22.5,30 Z"/>
<path fill="#a97f5c" stroke="none" d="M-25,46 C-28,20 -16,5 0,5 C16,5 28,20 25,46 C23,37 21,31 18,27 C13,29 8,26 4,20 C0,25 -8,28 -18,29 C-21,33 -23,39 -25,46 Z"/>
<path fill="none" d="M-24.5,45 C-23,39 -21,33 -18,29 C-8,28 0,25 4,20 C8,26 13,29 18,27 C21,31 23,37 24.5,45"/>
<path fill="none" d="M-14,41 Q-9.5,36 -5,41 M5,41 Q9.5,36 14,41"/>
<path fill="#fff" d="M-6,47 Q0,56 6,47 Z"/>
<circle fill="#f4b8a8" stroke="none" cx="-14" cy="47" r="3.5" opacity="0.6"/><circle fill="#f4b8a8" stroke="none" cx="14" cy="47" r="3.5" opacity="0.6"/>
</g>
<g stroke="#2e2823" stroke-width="1.1"><path fill="#f9f6f0" d="M864,531 L866,508 L880,506 L884,531 Z"/><path fill="#fbe4d2" d="M868,510 C860,504 852,496 850,490 C849,487 852,486 854,489 L850,482 C849,479 852,478 854,481 L857,483 L856,478 C856,476 859,476 860,479 L864,484 L864,478 C864,476 867,476 867,479 L872,494 L877,506 Z"/></g>
</g>
<path fill="#f8db92" d="M802,455 L816,466 L802,477 Z"/>
</svg>
<div class="t" style="left:277px;top:33px;font-size:33.3px;-webkit-text-stroke:0.6px #1c1a17">美容師<span class="k">のストレス</span>原因<span class="k">と</span>対処法</div>
<div class="t" style="left:228px;top:101px;font-size:21.5px">原因<span class="k">と</span>背景</div>
<div class="t" style="left:701px;top:101px;font-size:21.5px">３<span class="k">つの</span>対処法</div>
<div class="t" style="left:175px;top:378px;font-size:21px"><span class="k">サポートと</span>未来<span class="k">への</span>視点</div>
<div class="t" style="left:79px;top:141px;font-size:22.9px"><span class="k">ストレスは</span>職業特性</div>
<div class="t" style="left:350px;top:141px;-webkit-text-stroke:0;text-shadow:0.3px 0 0 rgba(28,26,23,0.7);font-size:18.2px">①感情労働</div>
<div class="t" style="left:350px;top:217px;-webkit-text-stroke:0;text-shadow:0.3px 0 0 rgba(28,26,23,0.7);font-size:18.2px">②仕事量過多</div>
<div class="t" style="left:350px;top:294px;-webkit-text-stroke:0;text-shadow:0.3px 0 0 rgba(28,26,23,0.7);font-size:18.2px">③給料<span class="k">と</span>労力</div>
<div class="t" style="left:613px;top:141px;font-size:22.8px"><span class="k">ストレスを</span>軽<span class="k">くする</span>３<span class="k">つの</span>方法</div>
<div class="t" style="left:569px;top:180px;-webkit-text-stroke:0;text-shadow:0.3px 0 0 rgba(28,26,23,0.7);font-size:17.5px">① 小<span class="k">さな</span>休息</div>
<div class="t" style="left:722px;top:180px;-webkit-text-stroke:0;text-shadow:0.3px 0 0 rgba(28,26,23,0.7);font-size:17.5px">② 人<span class="k">に</span>話<span class="k">す</span></div>
<div class="t" style="left:857px;top:180px;-webkit-text-stroke:0;text-shadow:0.3px 0 0 rgba(28,26,23,0.7);font-size:17.5px">③ 環境<span class="k">の</span>見直<span class="k">し</span></div>
<div class="t" style="left:59px;top:235px;-webkit-text-stroke:0;text-shadow:0.3px 0 0 rgba(28,26,23,0.85);font-size:14px"><span class="k">お</span>客様</div>
<div class="t" style="left:43px;top:251px;-webkit-text-stroke:0;text-shadow:0.3px 0 0 rgba(28,26,23,0.85);font-size:14px;letter-spacing:-1.6px"><span class="k" style="letter-spacing:calc(-1.6px / 1.07 - 0.07em)">プレッシャー</span></div>
<div class="t" style="left:45px;top:333px;-webkit-text-stroke:0;text-shadow:0.3px 0 0 rgba(28,26,23,0.85);font-size:14px;letter-spacing:-0.8px">時間<span class="k" style="letter-spacing:calc(-0.8px / 1.07 - 0.07em)">がない</span></div>
<div class="t" style="left:265px;top:242px;-webkit-text-stroke:0;text-shadow:0.3px 0 0 rgba(28,26,23,0.85);font-size:14px;letter-spacing:-0.9px">人間関係</div>
<div class="t" style="left:249px;top:334px;-webkit-text-stroke:0;text-shadow:0.3px 0 0 rgba(28,26,23,0.85);font-size:14px;letter-spacing:-1.6px">給料<span class="k" style="letter-spacing:calc(-1.6px / 1.07 - 0.07em)">・</span>将来不安</div>
<div class="t" style="left:126px;top:320px;-webkit-text-stroke:0;text-shadow:0.3px 0 0 rgba(28,26,23,0.85);font-size:13px;letter-spacing:-0.7px">性格<span class="k" style="letter-spacing:calc(-0.7px / 1.07 - 0.07em)">のせいじゃない</span>。</div>
<div class="t" style="left:583px;top:298px;-webkit-text-stroke:0;text-shadow:0.3px 0 0 rgba(28,26,23,0.85);font-size:15px"><span style="display:inline-block;width:4.4px;height:4.4px;border-radius:50%;background:#1c1a17;margin:0 3px 0 -1px;position:relative;top:-4px"></span>深呼吸</div>
<div class="t" style="left:583px;top:318px;-webkit-text-stroke:0;text-shadow:0.3px 0 0 rgba(28,26,23,0.85);font-size:15px"><span style="display:inline-block;width:4.4px;height:4.4px;border-radius:50%;background:#1c1a17;margin:0 3px 0 -1px;position:relative;top:-4px"></span>SNS距離</div>
<div class="t" style="left:583px;top:337px;-webkit-text-stroke:0;text-shadow:0.3px 0 0 rgba(28,26,23,0.85);font-size:15px;letter-spacing:-1.3px"><span style="display:inline-block;width:4.4px;height:4.4px;border-radius:50%;background:#1c1a17;margin:0 3px 0 -1px;position:relative;top:-4px"></span><span class="k" style="letter-spacing:calc(-1.3px / 1.07 - 0.07em)">できたことメモ</span></div>
<div class="t" style="left:720px;top:302px;-webkit-text-stroke:0;text-shadow:0.3px 0 0 rgba(28,26,23,0.85);font-size:15px">一人<span class="k">で</span>抱<span class="k">えない</span>。</div>
<div class="t" style="left:869.5px;top:298px;-webkit-text-stroke:0;text-shadow:0.3px 0 0 rgba(28,26,23,0.85);font-size:15px"><span style="display:inline-block;width:4.4px;height:4.4px;border-radius:50%;background:#1c1a17;margin:0 3px 0 -1px;position:relative;top:-4px"></span>穏<span class="k">やかなサロン</span></div>
<div class="t" style="left:869.5px;top:318px;-webkit-text-stroke:0;text-shadow:0.3px 0 0 rgba(28,26,23,0.85);font-size:15px"><span style="display:inline-block;width:4.4px;height:4.4px;border-radius:50%;background:#1c1a17;margin:0 3px 0 -1px;position:relative;top:-4px"></span>怒<span class="k">られない</span></div>
<div class="t" style="left:869.5px;top:337px;-webkit-text-stroke:0;text-shadow:0.3px 0 0 rgba(28,26,23,0.85);font-size:15px"><span style="display:inline-block;width:4.4px;height:4.4px;border-radius:50%;background:#1c1a17;margin:0 3px 0 -1px;position:relative;top:-4px"></span>相談<span class="k">しやすい</span></div>
<div class="t" style="left:50px;top:416px;-webkit-text-stroke:0;text-shadow:0.3px 0 0 rgba(28,26,23,0.7);font-size:19px">外側<span class="k">の</span>相談</div>
<div class="t" style="left:292px;top:416px;-webkit-text-stroke:0;text-shadow:0.3px 0 0 rgba(28,26,23,0.7);font-size:19px">未来<span class="k">の</span>不安</div>
<div class="t" style="left:169px;top:429px;-webkit-text-stroke:0;text-shadow:0.3px 0 0 rgba(28,26,23,0.85);font-size:11px;color:#3a3020">美容師専門相談</div>
<div class="t" style="left:155px;top:514px;font-weight:normal;-webkit-text-stroke:0;text-shadow:0.45px 0 0 #1c1a17,0 0.2px 0 #1c1a17;font-size:16.5px">Beauty Mirai<span class="k">など</span>。</div>
<div class="t" style="left:388px;top:516px;-webkit-text-stroke:0;text-shadow:0.3px 0 0 rgba(28,26,23,0.85);font-size:15px">先輩<span class="k">の</span>声<span class="k">も</span>参考<span class="k">に</span>。</div>
<div class="t" style="left:549px;top:429px;font-size:20px;letter-spacing:-0.25px">安心<span class="k" style="letter-spacing:calc(-0.25px / 1.07 - 0.07em)">して</span>働<span class="k" style="letter-spacing:calc(-0.25px / 1.07 - 0.07em)">ける</span>場所<span class="k" style="letter-spacing:calc(-0.25px / 1.07 - 0.07em)">はある</span>。</div>
<div class="t" style="left:549px;top:457px;font-size:20px;letter-spacing:-0.25px">環境<span class="k" style="letter-spacing:calc(-0.25px / 1.07 - 0.07em)">が</span>変<span class="k" style="letter-spacing:calc(-0.25px / 1.07 - 0.07em)">われば</span>、</div>
<div class="t" style="left:549px;top:485px;font-size:20px;letter-spacing:-0.25px">仕事<span class="k" style="letter-spacing:calc(-0.25px / 1.07 - 0.07em)">はもっと</span>楽<span class="k" style="letter-spacing:calc(-0.25px / 1.07 - 0.07em)">になる</span>。</div>
</body></html>
